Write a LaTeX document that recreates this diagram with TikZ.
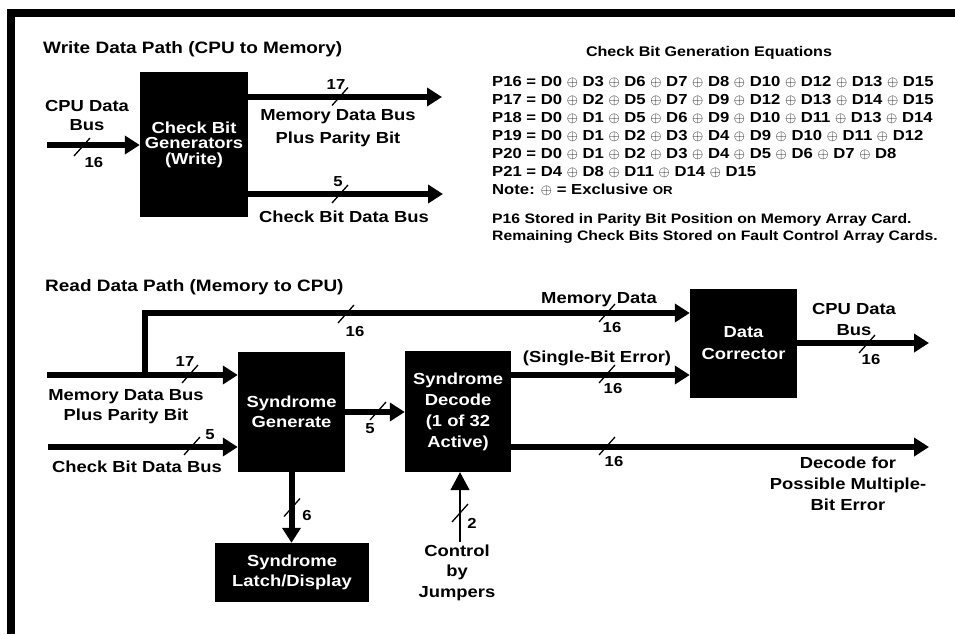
\documentclass[tikz,border=0pt]{standalone}
\usepackage{fontspec}
\setmainfont{Liberation Sans}[FakeStretch=1.15]
\usetikzlibrary{arrows.meta}
\newcommand\dgF[2]{\bfseries\fontsize{#1}{#2}\selectfont}
\newcommand\xo{\ensuremath{\oplus}}
\begin{document}
\begin{tikzpicture}[x=1pt,y=-1pt,
  bus/.style={line width=6pt,-{Triangle[length=15pt,width=18pt]}},
  ctlarrow/.style={line width=1.5pt,-{Triangle[length=18pt,width=19pt]}},
  blk/.style={fill=black,text=white,align=center,inner sep=0pt,font={\dgF{16}{20}}},
  lbl/.style={align=center,inner sep=0pt,font={\dgF{16}{20}}},
  num/.style={inner sep=0pt,font={\dgF{14.5}{16}}},
  head/.style={anchor=west,inner sep=0pt,font={\dgF{16.5}{20}}},
  eq/.style={anchor=base west,inner sep=0pt,font={\dgF{14.5}{18}}},
  note/.style={anchor=base west,inner sep=0pt,font={\dgF{13.7}{18}}},
  busslash/.pic={\draw[line width=1.3pt] (-8,9) -- (8,-9);}
]
\useasboundingbox (0,0) rectangle (955,634);
% frame
\fill (7,9) rectangle (955,17);
\fill (7,9) rectangle (15,634);

% ---------------- Write data path ----------------
\node[head] (wtitle) at (43,49) {Write Data Path (CPU to Memory)};
\node[blk,minimum width=108pt,minimum height=145pt,font={\dgF{16}{15.5}}] (cbg) at (194,144.5) {Check Bit\\Generators\\(Write)};

\coordinate (win) at (47,145);
\draw[bus] (win) -- (win -| cbg.west);
\pic at (82,147) {busslash};
\node[num] (n16w) at (94,163) {16};
\node[lbl,font={\dgF{16}{19}}] (cpuin) at (87,115) {CPU Data\\Bus};

\coordinate (wo1) at (442,97);
\draw[bus] (cbg.east |- wo1) -- (wo1);
\pic at (340,96.5) {busslash};
\node[num] (n17w) at (336,85) {17};
\node[lbl,font={\dgF{16}{23}}] (mdbw) at (338,128.5) {Memory Data Bus\\Plus Parity Bit};

\coordinate (wo2) at (443,194);
\draw[bus] (cbg.east |- wo2) -- (wo2);
\pic at (340,194) {busslash};
\node[num] (n5w) at (338,182) {5};
\node[lbl] (cbdw) at (344,217) {Check Bit Data Bus};

% ---------------- Equations ----------------
\node[inner sep=0pt,font={\dgF{14}{18}}] (eqtitle) at (709,53) {Check Bit Generation Equations};
\node[eq] (p16) at (492,86)  {P16 = D0 \xo{} D3 \xo{} D6 \xo{} D7 \xo{} D8 \xo{} D10 \xo{} D12 \xo{} D13 \xo{} D15};
\node[eq] (p17) at (492,104) {P17 = D0 \xo{} D2 \xo{} D5 \xo{} D7 \xo{} D9 \xo{} D12 \xo{} D13 \xo{} D14 \xo{} D15};
\node[eq] (p18) at (492,122) {P18 = D0 \xo{} D1 \xo{} D5 \xo{} D6 \xo{} D9 \xo{} D10 \xo{} D11 \xo{} D13 \xo{} D14};
\node[eq] (p19) at (492,140) {P19 = D0 \xo{} D1 \xo{} D2 \xo{} D3 \xo{} D4 \xo{} D9 \xo{} D10 \xo{} D11 \xo{} D12};
\node[eq] (p20) at (492,158) {P20 = D0 \xo{} D1 \xo{} D2 \xo{} D3 \xo{} D4 \xo{} D5 \xo{} D6 \xo{} D7 \xo{} D8};
\node[eq] (p21) at (492,176) {P21 = D4 \xo{} D8 \xo{} D11 \xo{} D14 \xo{} D15};
\node[eq] (note) at (492,194) {Note: \xo{} = Exclusive {\fontsize{11.5}{12}\selectfont OR}};
\node[note] (stored) at (492,223) {P16 Stored in Parity Bit Position on Memory Array Card.};
\node[note] (remain) at (492,240) {Remaining Check Bits Stored on Fault Control Array Cards.};

% ---------------- Read data path ----------------
\node[head] (rtitle) at (45,287) {Read Data Path (Memory to CPU)};
\node[blk,minimum width=107pt,minimum height=120pt] (sg) at (291.5,412) {Syndrome\\Generate};
\node[blk,minimum width=106pt,minimum height=121pt,font={\dgF{16}{21}}] (sd) at (458,411.5) {Syndrome\\Decode\\(1 of 32\\Active)};
\node[blk,minimum width=154pt,minimum height=59pt] (sl) at (292,572.5) {Syndrome\\Latch/Display};
\node[blk,minimum width=107pt,minimum height=109pt,font={\dgF{16}{22}}] (dc) at (743.5,343.5) {Data\\Corrector};

% memory data bus in + branch
\coordinate (r17) at (47,375);
\draw[bus] (r17) -- (r17 -| sg.west);
\pic at (190,374) {busslash};
\node[num] (n17r) at (185,362) {17};
\coordinate (br) at (145,375);
\coordinate (mtop) at (145,313);
\draw[bus] (br) -- (mtop) -- (mtop -| dc.west);
\pic at (346,314) {busslash};
\node[num] (n16a) at (355,332) {16};
\pic at (607,313) {busslash};
\node[num] (n16b) at (612,328) {16};
\node[lbl] (mdlbl) at (599,300) {Memory Data};
\node[lbl] (mdbr) at (126,407) {Memory Data Bus\\Plus Parity Bit};

% check bit bus in
\coordinate (r5) at (48,447);
\draw[bus] (r5) -- (r5 -| sg.west);
\pic at (192,446) {busslash};
\node[num] (n5r) at (210,435) {5};
\node[lbl] (cbdr) at (137,467) {Check Bit Data Bus};

% syndrome generate -> decode
\draw[bus] (sg.east) -- (sd.west |- sg.east);
\pic at (378,411) {busslash};
\node[num] (n5s) at (370,429) {5};

% syndrome generate -> latch
\draw[bus] (sg.south) -- (sg.south |- sl.north);
\pic at (292,507.5) {busslash};
\node[num] (n6) at (307,516) {6};

% control by jumpers
\coordinate (ctl) at (460,542);
\draw[ctlarrow] (ctl) -- (ctl |- sd.south);
\pic at (460,513) {busslash};
\node[num] (n2) at (472,523) {2};
\node[lbl,font={\dgF{16}{20.5}}] (ctltext) at (457,572.5) {Control\\by\\Jumpers};

% single-bit error
\coordinate (sby) at (0,375);
\draw[bus] (sd.east |- sby) -- (dc.west |- sby);
\pic at (607,374) {busslash};
\node[num] (n16c) at (613,389) {16};
\node[lbl] (sbe) at (597,358) {(Single-Bit Error)};

% decode for possible multiple-bit error
\coordinate (dmo) at (929,447);
\draw[bus] (sd.east |- dmo) -- (dmo);
\pic at (607,446) {busslash};
\node[num] (n16d) at (614,462) {16};
\node[lbl,font={\dgF{16}{21}}] (dmlbl) at (848,484) {Decode for\\Possible Multiple-\\Bit Error};

% CPU data bus out
\coordinate (cpo) at (929,343);
\draw[bus] (dc.east |- cpo) -- (cpo);
\pic at (867,344) {busslash};
\node[num] (n16e) at (871,360) {16};
\node[lbl,font={\dgF{16}{21}}] (cpuout) at (854,319.5) {CPU Data\\Bus};
\end{tikzpicture}
\end{document}
